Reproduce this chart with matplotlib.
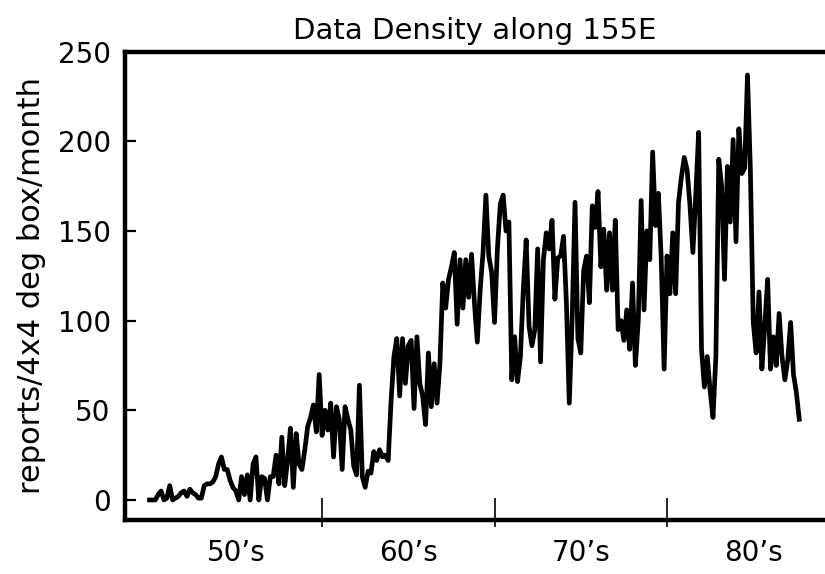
import numpy as np
import matplotlib
matplotlib.use('Agg')
from matplotlib import pyplot as plt

# reports per 4x4 deg box, every second month from Jan 1950
reports_1950s = [0, 0, 0, 3, 5, 0,
                 1, 8, 0, 1, 2, 4,
                 5, 2, 6, 4, 3, 1,
                 1, 8, 9, 9, 10, 13,
                 20, 24, 17, 17, 11, 7,
                 5, 0, 13, 3, 14, 0,
                 20, 24, 0, 13, 12, 0,
                 13, 13, 25, 9, 35, 8,
                 22, 40, 7, 37, 20, 17,
                 28, 41, 46, 53, 38, 70]
reports_1960s = [36, 50, 39, 54, 24, 52,
                 45, 17, 52, 45, 39, 19,
                 14, 64, 13, 7, 16, 15,
                 27, 22, 28, 24, 25, 22,
                 55, 80, 90, 58, 90, 65,
                 86, 89, 51, 91, 65, 58,
                 42, 82, 52, 76, 54, 76,
                 121, 107, 123, 130, 138, 98,
                 134, 107, 134, 113, 137, 110,
                 88, 117, 138, 170, 136, 127]
reports_1970s = [99, 140, 165, 170, 150, 155,
                 67, 91, 66, 80, 117, 145,
                 97, 86, 95, 140, 77, 134,
                 149, 140, 156, 112, 135, 136,
                 147, 110, 54, 101, 166, 90,
                 82, 128, 136, 110, 164, 152,
                 172, 130, 151, 117, 149, 117,
                 156, 95, 100, 89, 106, 84,
                 121, 75, 100, 167, 106, 150,
                 134, 194, 153, 171, 134, 73]
reports_1980s = [136, 115, 149, 115, 166, 180,
                 191, 184, 164, 138, 170, 205,
                 84, 63, 80, 61, 46, 80,
                 190, 175, 123, 186, 155, 201,
                 144, 207, 182, 185, 237, 184,
                 99, 82, 116, 73, 97, 123,
                 73, 91, 75, 104, 80, 67,
                 78, 99, 70, 60, 45]

decade_labels = ["50\u2019s", "60\u2019s", "70\u2019s", "80\u2019s"]
label_years = [1955, 1965, 1975, 1985]
decade_ticks = [1960, 1970, 1980]
y_ticks = [0, 50, 100, 150, 200, 250]

reports = np.array(reports_1950s + reports_1960s + reports_1970s + reports_1980s)
years = 1950 + np.arange(len(reports)) / 6.0

fig = plt.figure(figsize=(8.25, 5.74), dpi=100)
ax = fig.add_axes([0.151, 0.094, 0.849, 0.816])
ax.plot(years, reports, color='black', lw=3.4, solid_joinstyle='round')
ax.set_xlim(1948.55, 1989.16)
ax.set_ylim(-11.2, 250)

for s in ['left', 'top', 'bottom']:
    ax.spines[s].set_linewidth(3.2)
ax.spines['right'].set_visible(False)

ax.set_yticks(y_ticks)
ax.tick_params(axis='y', direction='in', length=8, width=1.6, labelsize=20, pad=10)

# decade boundaries get the ticks, labels sit in the middle of each decade
ax.set_xticks(decade_ticks)
ax.set_xticklabels([])
ax.tick_params(axis='x', which='major', direction='in', length=16, width=1.2)
ax.set_xticks(label_years, minor=True)
ax.set_xticklabels(decade_labels, minor=True)
ax.tick_params(axis='x', which='minor', length=0, labelsize=20, pad=14)

sec = ax.secondary_xaxis('bottom')
sec.set_xticks(decade_ticks)
sec.set_xticklabels([])
sec.tick_params(direction='out', length=5, width=1.2)
sec.spines['bottom'].set_visible(False)

ax.set_ylabel('reports/4x4 deg box/month', fontsize=22, labelpad=8)
ax.set_title('Data Density along 155E', fontsize=21, pad=9)

fig.savefig('out.png', dpi=100)
